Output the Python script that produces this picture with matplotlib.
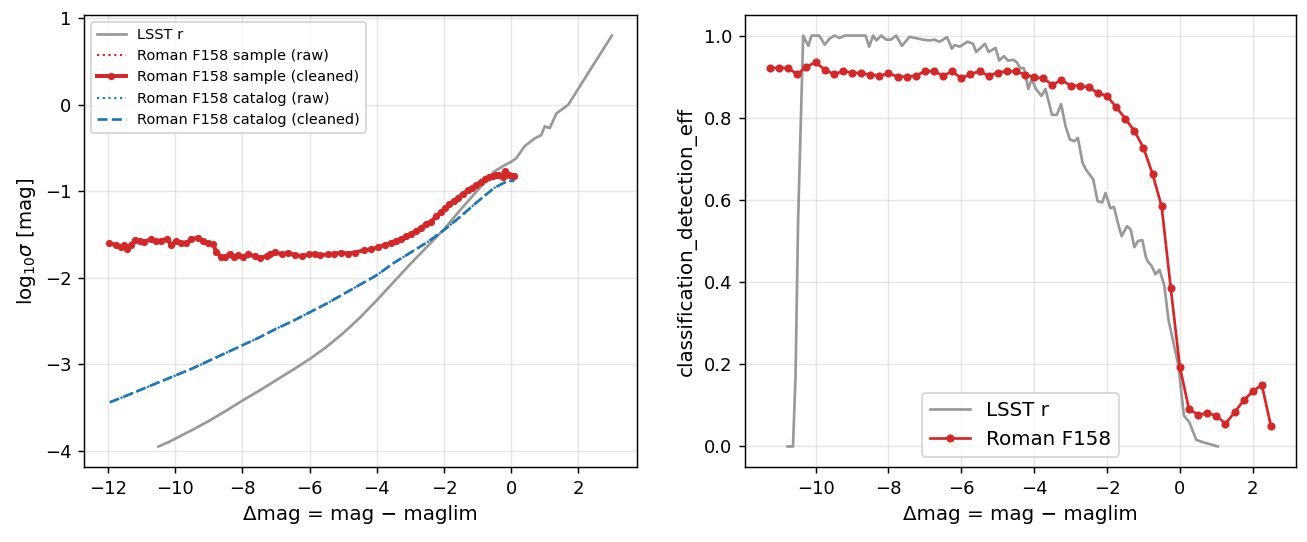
import numpy as np
import matplotlib
matplotlib.use("Agg")
import matplotlib.pyplot as plt

# ---- left panel: log10 sigma vs delta mag ----
lsst_dm = [-10.5, -10.2, -10.0, -9.5, -9.0, -8.5, -8.0, -7.5, -7.0, -6.5, -6.0, -5.5, -5.0, -4.5,
           -4.0, -3.5, -3.0, -2.5, -2.0, -1.5, -1.0, -0.5, -0.2, 0.0, 0.15, 0.4, 0.7, 0.9, 1.0,
           1.15, 1.35, 1.7, 3.0]
lsst_sig = [-3.95, -3.90, -3.86, -3.76, -3.655, -3.54, -3.42, -3.305, -3.185, -3.065, -2.94, -2.80,
            -2.64, -2.46, -2.26, -2.05, -1.84, -1.64, -1.44, -1.21, -0.99, -0.77, -0.70, -0.66,
            -0.62, -0.48, -0.39, -0.35, -0.25, -0.27, -0.10, 0.0, 0.80]

samp_dm = [-11.97, -11.77, -11.62, -11.54, -11.44, -11.32, -11.2, -11.04, -10.92, -10.72, -10.57,
           -10.42, -10.24, -10.12, -9.97, -9.82, -9.67, -9.52, -9.33, -9.18, -9.03, -8.88, -8.78,
           -8.63, -8.51, -8.38, -8.25, -8.13, -7.98, -7.83, -7.63, -7.48, -7.28, -7.18, -7.03,
           -6.83, -6.63, -6.43, -6.23, -6.03, -5.85, -5.68, -5.46, -5.26, -5.06, -4.86, -4.66,
           -4.37, -4.17, -3.97, -3.77, -3.57, -3.42, -3.27, -3.12, -2.98, -2.83, -2.68, -2.53,
           -2.38, -2.23, -2.08, -1.96, -1.84, -1.71, -1.59, -1.44, -1.29, -1.16, -1.04, -0.91,
           -0.79, -0.66, -0.54, -0.45, -0.35, -0.25, -0.18, -0.05, 0.03, 0.10]
samp_sig = [-1.60, -1.62, -1.64, -1.62, -1.67, -1.62, -1.56, -1.57, -1.59, -1.55, -1.58, -1.57,
            -1.55, -1.62, -1.57, -1.60, -1.60, -1.55, -1.54, -1.57, -1.60, -1.61, -1.70, -1.76,
            -1.76, -1.72, -1.76, -1.74, -1.76, -1.73, -1.75, -1.77, -1.75, -1.72, -1.70, -1.73,
            -1.71, -1.74, -1.75, -1.73, -1.72, -1.74, -1.73, -1.72, -1.71, -1.72, -1.71, -1.68,
            -1.67, -1.65, -1.62, -1.60, -1.57, -1.55, -1.52, -1.49, -1.46, -1.42, -1.38, -1.35,
            -1.29, -1.24, -1.19, -1.15, -1.11, -1.08, -1.03, -0.99, -0.96, -0.93, -0.89, -0.86,
            -0.83, -0.82, -0.81, -0.81, -0.83, -0.77, -0.81, -0.82, -0.82]

cat_dm = [-11.95, -11.5, -11.0, -10.5, -10.0, -9.5, -9.0, -8.5, -8.0, -7.5, -7.0, -6.5, -6.0, -5.5,
          -5.0, -4.5, -4.0, -3.5, -3.0, -2.5, -2.0, -1.5, -1.0, -0.5, -0.2, 0.0, 0.1]
cat_sig = [-3.44, -3.37, -3.29, -3.21, -3.13, -3.05, -2.96, -2.87, -2.78, -2.69, -2.59, -2.50,
           -2.40, -2.30, -2.19, -2.08, -1.97, -1.83, -1.71, -1.59, -1.45, -1.29, -1.12, -0.96,
           -0.90, -0.88, -0.88]

# ---- right panel: classification detection efficiency ----
lsst_eff_dm = [-10.77, -10.62, -10.55, -10.48, -10.34, -10.2, -10.11, -9.9, -9.75, -9.61, -9.48,
               -9.34, -9.2, -8.63, -8.53, -8.42, -8.33, -8.2, -8.06, -7.93, -7.79, -7.63, -7.42,
               -7.05, -6.87, -6.74, -6.6, -6.5, -6.39, -6.26, -6.18, -6.04, -5.83, -5.68, -5.59,
               -5.35, -5.25, -5.06, -4.96, -4.83, -4.72, -4.57, -4.48, -4.38, -4.28, -4.16, -4.07,
               -3.95, -3.8, -3.69, -3.51, -3.38, -3.26, -3.14, -3.02, -2.89, -2.8, -2.67, -2.58,
               -2.38, -2.26, -2.13, -2.04, -1.91, -1.81, -1.69, -1.6, -1.45, -1.35, -1.25, -1.15,
               -1.03, -0.93, -0.87, -0.78, -0.67, -0.56, -0.43, -0.31, -0.18, -0.04, 0.11, 0.26,
               0.45, 0.65, 0.85, 1.04]
lsst_eff = [0.0, 0.0, 0.17, 0.55, 1.0, 0.975, 1.0, 1.0, 0.978, 0.993, 1.0, 0.994, 1.0, 1.0, 0.973,
            1.0, 0.988, 1.0, 0.99, 0.99, 1.0, 0.975, 0.997, 0.99, 0.988, 0.99, 0.985, 0.99, 0.996,
            0.968, 0.977, 0.973, 0.985, 0.98, 0.96, 0.98, 0.96, 0.97, 0.939, 0.95, 0.939, 0.941,
            0.935, 0.921, 0.92, 0.870, 0.894, 0.870, 0.853, 0.870, 0.807, 0.807, 0.833, 0.780,
            0.747, 0.743, 0.751, 0.69, 0.674, 0.650, 0.597, 0.594, 0.617, 0.580, 0.583, 0.54,
            0.512, 0.536, 0.528, 0.485, 0.5, 0.502, 0.46, 0.449, 0.44, 0.419, 0.43, 0.393, 0.307,
            0.254, 0.197, 0.075, 0.059, 0.016, 0.01, 0.005, 0.0]

roman_eff_dm = np.arange(-11.25, 2.51, 0.25)
roman_eff = [0.920, 0.922, 0.920, 0.906, 0.924, 0.935, 0.917, 0.906, 0.913, 0.910, 0.908, 0.905,
             0.902, 0.908, 0.900, 0.900, 0.902, 0.913, 0.913, 0.902, 0.913, 0.896, 0.906, 0.913,
             0.902, 0.910, 0.913, 0.913, 0.905, 0.898, 0.896, 0.880, 0.892, 0.878, 0.878, 0.874,
             0.860, 0.853, 0.826, 0.798, 0.768, 0.727, 0.663, 0.584, 0.385, 0.193, 0.091, 0.077,
             0.081, 0.075, 0.055, 0.083, 0.112, 0.134, 0.150, 0.049]

gray = "#999999"
red = "tab:red"
blue = "tab:blue"

W, H = 1307, 542
fig = plt.figure(figsize=(W / 130, H / 130), dpi=130)
ax1 = fig.add_axes([84 / W, 75 / H, (637 - 84) / W, 452 / H])
ax2 = fig.add_axes([745 / W, 75 / H, (1296 - 745) / W, 452 / H])

ax1.plot(lsst_dm, lsst_sig, color=gray, lw=1.5, label="LSST r")
ax1.plot(samp_dm, samp_sig, color=red, lw=1.2, ls=":", label="Roman F158 sample (raw)")
ax1.plot(samp_dm, samp_sig, color=red, lw=2.2, marker="o", ms=3, label="Roman F158 sample (cleaned)")
ax1.plot(cat_dm, cat_sig, color=blue, lw=1.2, ls=":", label="Roman F158 catalog (raw)")
ax1.plot(cat_dm, cat_sig, color=blue, lw=1.5, ls="--", label="Roman F158 catalog (cleaned)")
ax1.set_xlabel("Δmag = mag − maglim", fontsize=11)
ax1.set_ylabel(r"log$_{10}\sigma$ [mag]", fontsize=11)
ax1.set_xticks([-12, -10, -8, -6, -4, -2, 0, 2])
ax1.set_yticks([-4, -3, -2, -1, 0, 1])
ax1.grid(True, alpha=0.3)
ax1.legend(loc="upper left", fontsize=8)

ax2.plot(lsst_eff_dm, lsst_eff, color=gray, lw=1.5, label="LSST r")
ax2.plot(roman_eff_dm, roman_eff, color=red, lw=1.5, marker="o", ms=3.5, label="Roman F158")
ax2.set_xlabel("Δmag = mag − maglim", fontsize=11)
ax2.set_ylabel("classification_detection_eff", fontsize=11)
ax2.set_xticks([-10, -8, -6, -4, -2, 0, 2])
ax2.set_yticks([0.0, 0.2, 0.4, 0.6, 0.8, 1.0])
ax2.grid(True, alpha=0.3)
ax2.legend(loc="lower center", fontsize=11)

fig.savefig("out.png", dpi=130)
